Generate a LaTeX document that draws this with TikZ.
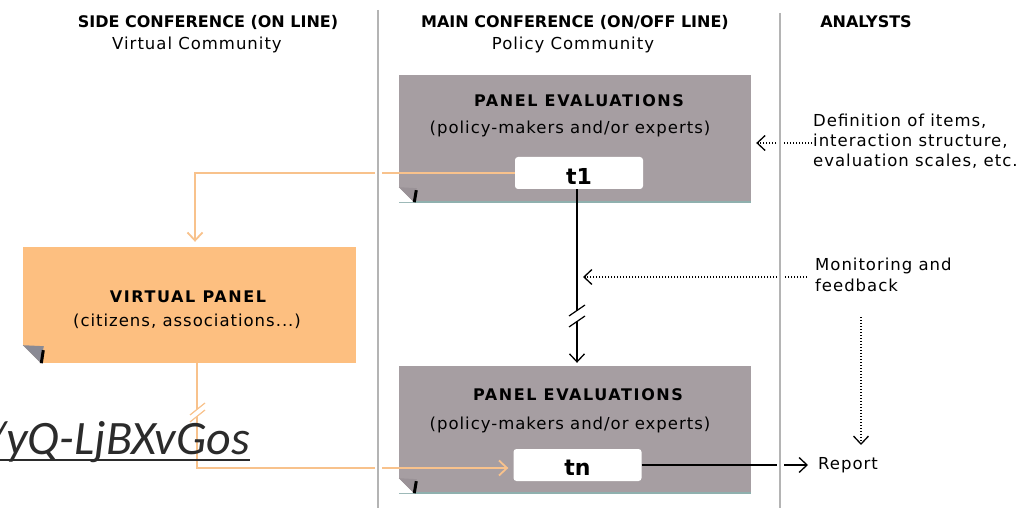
\documentclass[tikz,border=0pt]{standalone}
\usepackage{fontspec}
\setmainfont{DejaVu Sans}
\newfontfamily\hdrfont{DejaVu Sans}
\newfontfamily\ttlfont[LetterSpace=10]{DejaVu Sans}
\newfontfamily\txtfont[LetterSpace=6]{DejaVu Sans}
\newfontfamily\linkfont{Carlito}
\usetikzlibrary{arrows.meta}

\definecolor{panelgray}{HTML}{A69EA2}
\definecolor{flapgray}{HTML}{9A9297}
\definecolor{panelorange}{HTML}{FDBF80}
\definecolor{linkorange}{HTML}{F8C28C}
\definecolor{sepgray}{HTML}{B4B4B4}
\definecolor{edgeteal}{HTML}{8FB0AE}
\definecolor{foldgray}{HTML}{8A8A94}
\definecolor{urlgray}{HTML}{2B2B2B}

% folded page corner at the lower left of a panel
\newcommand\cornerfold[4]{%
  \begin{scope}[shift={(#1)}]
    \fill[white] (0,-#3) -- (0,0) -- (#3,0) -- cycle;
    \fill[#2] (0,-#3) -- (#3+3,-#3+1) -- (#3,0) -- cycle;
    \draw[black, line width=3pt] (#3+2.5,-#4) -- (#3+0.5,0);
  \end{scope}}

\tikzset{
  hdr/.style={font=\hdrfont\bfseries\fontsize{16}{19}\selectfont, inner sep=0, anchor=base},
  ttl/.style={font=\ttlfont\bfseries\fontsize{16}{19}\selectfont, inner sep=0, anchor=base},
  sub/.style={font=\txtfont\fontsize{16.5}{20}\selectfont, inner sep=0, anchor=base},
  note/.style={font=\txtfont\fontsize{16.5}{20}\selectfont, inner sep=0, anchor=base west},
  panel/.style={fill=panelgray, minimum width=352pt, minimum height=127pt, inner sep=0},
  vpanel/.style={fill=panelorange, minimum width=333pt, minimum height=116pt, inner sep=0},
  slot/.style={fill=white, rounded corners=3pt, minimum width=128pt, minimum height=32pt,
    inner sep=0, font=\bfseries\fontsize{22}{24}\selectfont},
  tip/.style={-{Straight Barb[length=8pt,width=15pt]}},
  flow/.style={tip, line width=1.3pt, black},
  oflow/.style={tip, line width=1.8pt, linkorange},
  hint/.style={tip, line width=1.3pt, black, dash pattern=on 1.3pt off 1.7pt},
  cut/.style={line width=1.2pt},
  sep/.style={sepgray, line width=2pt, preaction={draw=white, line width=7pt}},
}

\begin{document}
\begin{tikzpicture}[x=1pt, y=-1pt]
\useasboundingbox (0,0) rectangle (1029,508);
\clip (0,0) rectangle (1029,508);

% column headings
\node[hdr] (hside) at (208,28) {SIDE CONFERENCE (ON LINE)};
\node[sub] (hvirt) at (197,50) {Virtual Community};
\node[hdr] (hmain) at (575,28) {MAIN CONFERENCE (ON/OFF LINE)};
\node[sub] (hpol) at (573,50) {Policy Community};
\node[hdr] (hana) at (866,28) {ANALYSTS};

% panels
\node[panel] (tp) at (575,138.5) {};
\draw[edgeteal, line width=1.5pt] (tp.south west) -- (tp.south east);
\node[ttl] (tptitle) at (579,107) {PANEL EVALUATIONS};
\node[sub] (tpsub) at (570,134) {(policy-makers and/or experts)};
\node[slot] (t1) at (579,173) {\raisebox{-3pt}[\height][\depth]{t1}};
\cornerfold{tp.south west}{flapgray}{15}{12}

\node[panel] (bp) at (575,429.5) {};
\draw[edgeteal, line width=1.5pt] (bp.south west) -- (bp.south east);
\node[ttl] (bptitle) at (578,400) {PANEL EVALUATIONS};
\node[sub] (bpsub) at (570,429) {(policy-makers and/or experts)};
\node[slot] (tn) at (577.5,465) {\raisebox{-3pt}[\height][\depth]{tn}};
\cornerfold{bp.south west}{flapgray}{15}{12}

\node[vpanel] (vp) at (189.5,305) {};
\node[ttl] (vptitle) at (188,302) {VIRTUAL PANEL};
\node[sub] (vpsub) at (187,326) {(citizens, associations...)};
\cornerfold{vp.south west}{foldgray}{18}{13}

% analysts' notes
\node[note] (def1) at (813,127) {Definition of items,};
\node[note] (def2) at (813,147) {interaction structure,};
\node[note] (def3) at (813,167) {evaluation scales, etc.};
\node[note] (mon1) at (815,270) {Monitoring and};
\node[note] (mon2) at (815,291) {feedback};
\node[note] (rpt) at (818,469) {Report};

% connector anchors
\coordinate (c1) at (195,173);
\coordinate (c2) at (197,468);
\coordinate (c3) at (577,0);
\coordinate (dstart) at (812,143);
\coordinate (mstart) at (807,277);
\coordinate (rtop) at (861,317);
\coordinate (rtip) at (861,445);

% side conference links
\draw[oflow, shorten >=5pt] (t1.west) -- (c1) -- (c1 |- vp.north);
\draw[oflow, shorten >=5pt] (c2 |- vp.south) -- (197,409) (197,416) -- (c2) -- (c2 -| tn.west);
\draw[cut, linkorange] (190,415) -- (205,403) (190,422) -- (205,410);

% main conference flow
\draw[flow, shorten >=3pt] (c3 |- t1.south) -- (577,311) (577,321) -- (c3 |- bp.north);
\draw[cut] (569,316) -- (585,305) (569,327) -- (585,316);
\draw[flow, shorten >=10pt] (tn.east) -- (tn.east -| rpt.west);

% analysts' inputs
\draw[hint, shorten >=5pt] (dstart) -- (dstart -| tp.east);
\draw[hint, shorten >=6pt] (mstart) -- (mstart -| c3);
\draw[hint] (rtop) -- (rtip);

% column separators
\draw[sep] (378,10) -- (378,508);
\draw[sep] (780,13) -- (780,508);

% link caption
\node[anchor=base east, inner sep=0, text=urlgray,
  font=\linkfont\itshape\fontsize{48}{52}\selectfont] (url) at (250,454) {/yQ-LjBXvGos};
\draw[urlgray, line width=2.5pt] ([yshift=-6pt]url.base west) -- ([yshift=-6pt]url.base east);
\end{tikzpicture}
\end{document}
